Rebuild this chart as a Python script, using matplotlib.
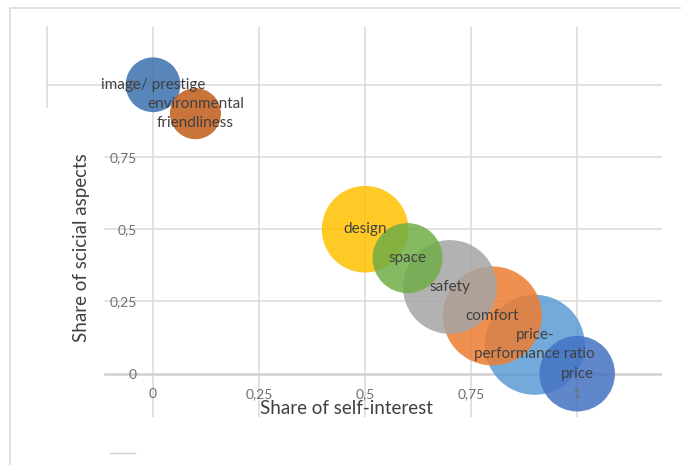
import matplotlib
matplotlib.use("Agg")
import matplotlib.pyplot as plt
from matplotlib.ticker import FixedLocator, FuncFormatter
from matplotlib.lines import Line2D
from matplotlib.patches import Rectangle

# Motives: share of self-interest (x) vs share of social aspects (y), bubble = weight
labels = ["image/ prestige", "environmental\nfriendliness", "design", "space",
          "safety", "comfort", "price-\nperformance ratio", "price"]
self_interest = [0.0, 0.1, 0.5, 0.6, 0.7, 0.8, 0.9, 1.0]
social = [1.0, 0.9, 0.5, 0.4, 0.3, 0.2, 0.1, 0.0]
weight = [30, 26, 75, 49, 88, 98, 100, 57]
colors = ["#3B70AE", "#C15A17", "#FFC000", "#70AD47",
          "#A5A5A5", "#ED7D31", "#5B9BD5", "#4472C4"]
tick_values = [0, 0.25, 0.5, 0.75, 1]

plt.rcParams["font.family"] = ["Lato", "DejaVu Sans"]

W, H = 681, 465
fig = plt.figure(figsize=(W / 100, H / 100), dpi=100)
ax = fig.add_axes([47 / W, (H - 417) / H, 615 / W, 390 / H])
ax.set_xlim(-0.25, 1.2)
ax.set_ylim(-0.15, 1.2)

grid_c = "#d9d9d9"
# vertical gridlines
for t in tick_values:
    ax.axvline(t, color=grid_c, lw=1.1, zorder=0)
# horizontal gridlines
for t in tick_values:
    xmin = 0 if t == 1 else 0.094
    lw, c = (1.8, "#d0d0d0") if t == 0 else (1.1, grid_c)
    ax.axhline(t, xmin=xmin, color=c, lw=lw, zorder=0)
ax.plot([0, 0], [1 - 80 / 390, 1], transform=ax.transAxes, color=grid_c,
        lw=1.1, zorder=0, clip_on=False)

# bubbles: larger ones drawn first so smaller ones stay on top
full_s = (2 * 50 * 0.72) ** 2
order = sorted(range(len(labels)), key=lambda i: -weight[i])
for z, i in enumerate(order):
    ax.scatter(self_interest[i], social[i], s=weight[i] / 100 * full_s,
               color=colors[i], alpha=0.85, edgecolors="none", zorder=1 + z * 0.01)

for i in range(len(labels)):
    ax.text(self_interest[i], social[i], labels[i], ha="center", va="center",
            fontsize=11, color="#404040", zorder=5, linespacing=1.45)

# axes crossing at the origin
for s in ax.spines.values():
    s.set_visible(False)
ax.spines["bottom"].set_position(("data", 0))
ax.spines["left"].set_position(("data", 0))

fmt = FuncFormatter(lambda v, p: ("%g" % v).replace(".", ","))
ax.xaxis.set_major_locator(FixedLocator(tick_values))
ax.yaxis.set_major_locator(FixedLocator(tick_values))
ax.xaxis.set_major_formatter(fmt)
ax.yaxis.set_major_formatter(fmt)
ax.tick_params(axis="both", length=0, labelsize=10, labelcolor="#6e6e6e")
ax.tick_params(axis="x", pad=10.5)
ax.tick_params(axis="y", pad=11.5)
ax.xaxis.set_zorder(4)
ax.yaxis.set_zorder(4)

fig.text(346 / W, 1 - 409 / H, "Share of self-interest", ha="center", va="center",
         fontsize=13.5, color="#404040")
fig.text(81 / W, 1 - 248 / H, "Share of scicial aspects", ha="center", va="center",
         rotation=90, fontsize=13.5, color="#404040")

# chart frame and footer mark
fig.patches.append(Rectangle((10 / W, -0.1), 1.5, (H - 8) / H + 0.1,
                             transform=fig.transFigure, fill=False,
                             ec="#dcdcdc", lw=1.2))
fig.lines.append(Line2D([110 / W, 135 / W], [12 / H, 12 / H],
                        transform=fig.transFigure, color="#d0d0d0", lw=1))

fig.savefig("out.png", dpi=100)
